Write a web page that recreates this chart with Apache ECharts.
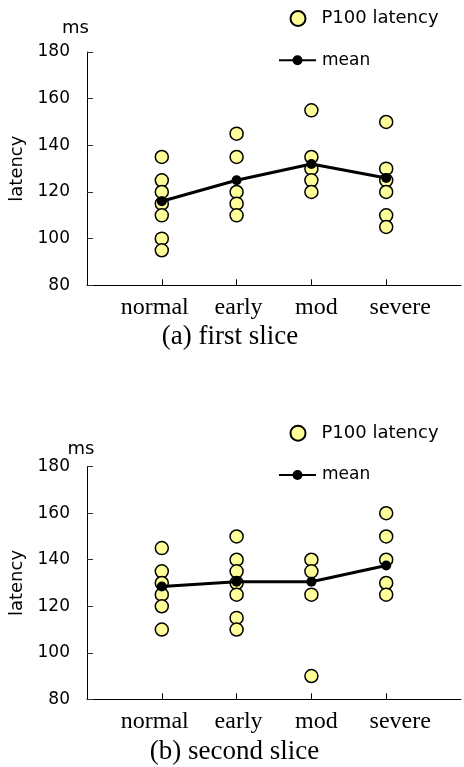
<!DOCTYPE html>
<html>
<head>
<meta charset="utf-8">
<script src="https://cdn.jsdelivr.net/npm/echarts@6/dist/echarts.min.js"></script>
<style>
  html, body { margin: 0; padding: 0; background: #fff; }
  #chart { width: 464px; height: 767px; }
</style>
</head>
<body>
<div id="chart"></div>
<script>
// ---- data ----
const categories = ['normal', 'early', 'mod', 'severe'];

const firstNormal = [135, 125, 120, 115, 110, 100, 95];
const firstEarly  = [145, 135, 120, 115, 110];
const firstMod    = [155, 135, 130, 125, 120];
const firstSevere = [150, 130, 125, 120, 110, 105];
const firstMean   = [116, 125, 132, 126];

const secondNormal = [145, 135, 130, 125, 120, 110];
const secondEarly  = [150, 140, 135, 130, 125, 115, 110];
const secondMod    = [140, 135, 125, 90];
const secondSevere = [160, 150, 140, 130, 125];
const secondMean   = [128.5, 130.5, 130.5, 137.5];

const yMin = 80, yMax = 180, yStep = 20;
const pointName = 'P100 latency';
const meanName = 'mean';
const yName = 'latency';
const unitText = 'ms';
const captions = ['(a) first slice', '(b) second slice'];

// ---- build ----
function points(groups) {
  const out = [];
  groups.forEach((vals, i) => vals.forEach(v => out.push([categories[i], v])));
  return out;
}
const firstPoints = points([firstNormal, firstEarly, firstMod, firstSevere]);
const secondPoints = points([secondNormal, secondEarly, secondMod, secondSevere]);

const labelShift = [-7, 2, 5, 14];
const axisCats = [''].concat(categories.map((c, i) => ({
  value: c,
  textStyle: { padding: labelShift[i] >= 0 ? [0, 0, 0, 2 * labelShift[i]] : [0, -2 * labelShift[i], 0, 0] }
}))).concat(['']);

const SANS = 'DejaVu Sans';
const SERIF = 'Liberation Serif';

const grids = [
  { left: 87, top: 52, width: 380, height: 233.3 },
  { left: 87, top: 466.7, width: 380, height: 232.6 }
];

function xAxis(idx) {
  return {
    type: 'category', gridIndex: idx, data: axisCats, boundaryGap: false,
    axisLine: { lineStyle: { color: '#000', width: 1 } },
    axisTick: { inside: true, length: 6, interval: (i, v) => v !== '', lineStyle: { color: '#000' } },
    axisLabel: { interval: 0, margin: 10, color: '#000', fontFamily: SERIF, fontSize: 24 },
    splitLine: { show: false }
  };
}
function yAxis(idx) {
  return {
    type: 'value', gridIndex: idx, min: yMin, max: yMax, interval: yStep,
    name: yName, nameLocation: 'middle', nameRotate: 90, nameGap: 60,
    nameTextStyle: { fontFamily: SANS, fontSize: 18, color: '#000' },
    axisLine: { show: true, lineStyle: { color: '#000', width: 1 } },
    axisTick: { show: true, inside: true, length: 6, lineStyle: { color: '#333' } },
    axisLabel: { margin: 17, color: '#000', fontFamily: SANS, fontSize: 17 },
    splitLine: { show: false }
  };
}
function scatter(idx, data) {
  return {
    type: 'scatter', name: pointName, xAxisIndex: idx, yAxisIndex: idx, data: data,
    symbol: 'circle', symbolSize: 13, z: 2,
    itemStyle: { color: '#ffff99', borderColor: '#000', borderWidth: 1.5, opacity: 1 }
  };
}
function meanLine(idx, means) {
  return {
    type: 'line', name: meanName, xAxisIndex: idx, yAxisIndex: idx,
    data: categories.map((c, i) => [c, means[i]]),
    symbol: 'circle', symbolSize: 10, showSymbol: true, z: 3,
    itemStyle: { color: '#000' },
    lineStyle: { color: '#000', width: 3 }
  };
}
function legendPair(yPoint, yMean) {
  return [
    { left: 289.5, top: yPoint - 7.5, padding: 0, itemWidth: 15, itemHeight: 15,
      data: [pointName], selectedMode: false,
      textStyle: { fontFamily: SANS, fontSize: 18, color: '#000', padding: [0, 0, 0, 11] } },
    { left: 278, top: yMean - 6.25, padding: 0, itemWidth: 37, itemHeight: 12.5,
      data: [meanName], selectedMode: false,
      textStyle: { fontFamily: SANS, fontSize: 17, color: '#000', padding: [0, 0, 0, 1] } }
  ];
}

const chart = echarts.init(document.getElementById('chart'), null, { renderer: 'canvas' });
chart.setOption({
  animation: false,
  backgroundColor: '#fff',
  grid: grids,
  xAxis: [xAxis(0), xAxis(1)],
  yAxis: [yAxis(0), yAxis(1)],
  legend: legendPair(17, 58).concat(legendPair(431.7, 472.7)),
  series: [
    scatter(0, firstPoints), meanLine(0, firstMean),
    scatter(1, secondPoints), meanLine(1, secondMean)
  ],
  graphic: [
    { type: 'text', x: 75.5, y: 28, style: { text: unitText, fontFamily: SANS, fontSize: 18, fill: '#000', align: 'center', verticalAlign: 'middle' } },
    { type: 'text', x: 81, y: 449, style: { text: unitText, fontFamily: SANS, fontSize: 18, fill: '#000', align: 'center', verticalAlign: 'middle' } },
    { type: 'text', x: 230, y: 337, style: { text: captions[0], fontFamily: SERIF, fontSize: 27, fill: '#000', align: 'center', verticalAlign: 'middle' } },
    { type: 'text', x: 234.5, y: 752, style: { text: captions[1], fontFamily: SERIF, fontSize: 27, fill: '#000', align: 'center', verticalAlign: 'middle' } }
  ]
});
</script>
</body>
</html>
